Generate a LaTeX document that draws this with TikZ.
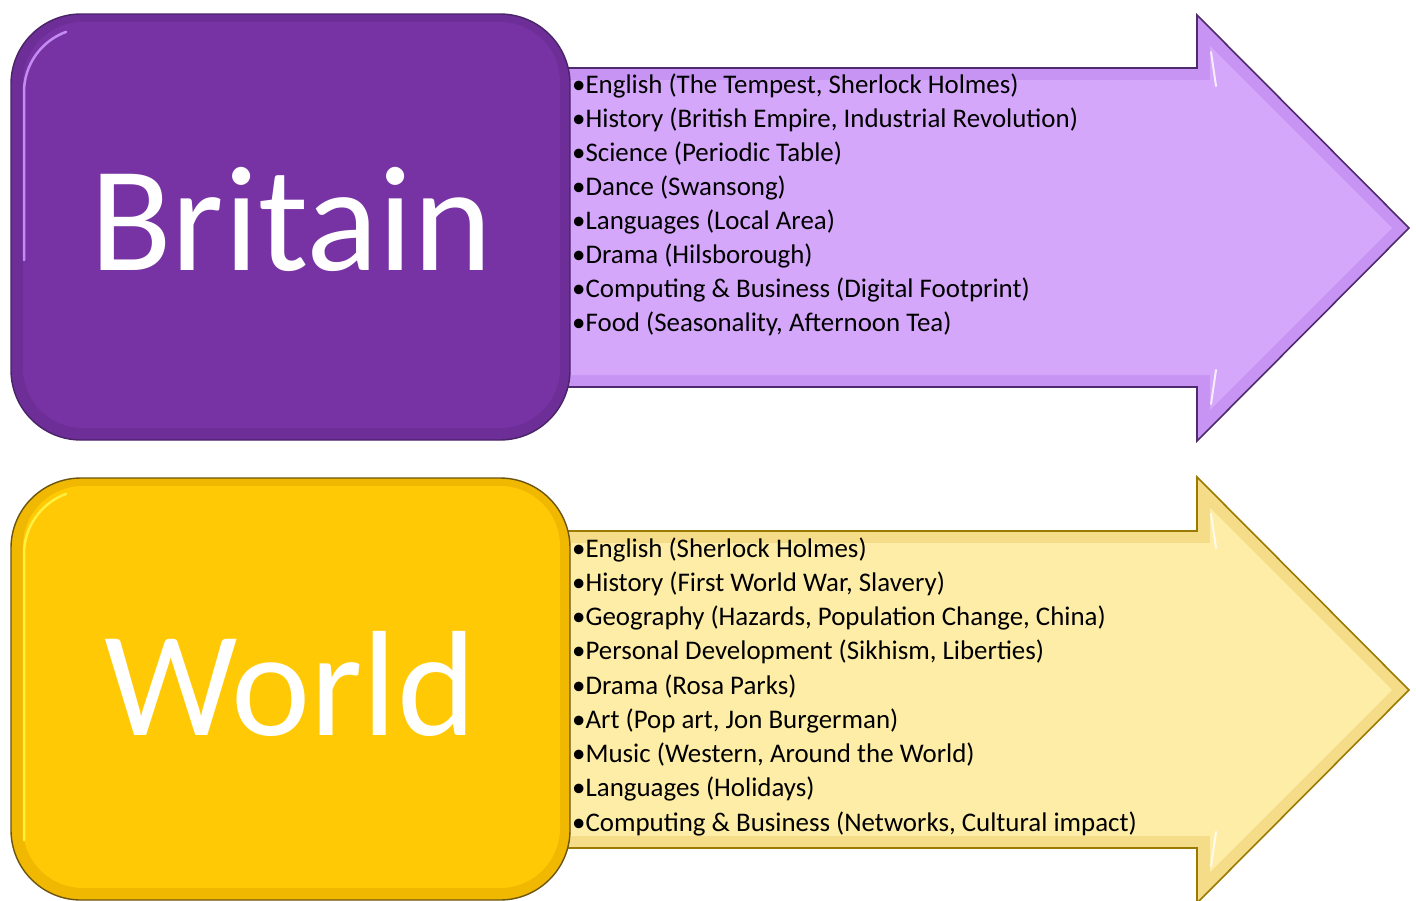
\documentclass[tikz,border=0pt]{standalone}
\usepackage{fontspec}
\setmainfont{Carlito}
\definecolor{pmain}{HTML}{7733A3}
\definecolor{pedge}{HTML}{4A2468}
\definecolor{pband}{HTML}{6E2E98}
\definecolor{plite}{HTML}{C48CF2}
\definecolor{parrow}{HTML}{D5A7FB}
\definecolor{parrowband}{HTML}{C794F3}
\definecolor{parrowedge}{HTML}{4E2A6E}
\definecolor{ymain}{HTML}{FFC906}
\definecolor{yedge}{HTML}{6B5510}
\definecolor{yband}{HTML}{F0B800}
\definecolor{ylite}{HTML}{FFF040}
\definecolor{yarrow}{HTML}{FEEDA6}
\definecolor{yarrowband}{HTML}{F4DC88}
\definecolor{yarrowedge}{HTML}{9A7A00}
\tikzset{
  listtext/.style={anchor=base west, inner sep=0pt, font=\fontsize{26.9}{32}\selectfont, text=black},
  bigtext/.style={anchor=base, inner sep=0pt, font=\fontsize{150}{160}\selectfont, text=white},
  shine/.style={white, line width=2pt, opacity=0.8, line cap=round},
}
\begin{document}
\begin{tikzpicture}[x=1pt,y=-1pt]
\useasboundingbox (0,0) rectangle (1416,900);
% ---------- Britain arrow ----------
\fill[parrowband] (540,68) -- (1197,68) -- (1197,15) -- (1409,228) -- (1197,441) -- (1197,387) -- (540,387) -- cycle;
\fill[parrow] (540,80) -- (1210,80) -- (1210,46) -- (1392,228) -- (1210,410) -- (1210,375) -- (540,375) -- cycle;
\draw[shine] (1211,52) -- (1216,86);
\draw[shine] (1211,404) -- (1216,370);
\draw[parrowedge, line width=1.6pt, line join=miter] (540,68) -- (1197,68) -- (1197,15) -- (1409,228) -- (1197,441) -- (1197,387) -- (540,387);
% ---------- Britain box ----------
\node[draw=pedge, fill=pband, line width=1.4pt, rounded corners=70pt, minimum width=559pt, minimum height=426pt, inner sep=0pt] (britainbox) at (290.5,227) {};
\node[fill=pmain, rounded corners=60pt, minimum width=537pt, minimum height=406pt, inner sep=0pt] (britaininner) at (291.5,225) {};
\draw[plite, line width=2.5pt, line cap=round] (24,260) -- (24,92) arc[start angle=180, end angle=250, radius=64];
\node[bigtext] (britain) at (291,270) {Britain};
\foreach \t [count=\i] in {{English (The Tempest, Sherlock Holmes)},{History (British Empire, Industrial Revolution)},{Science (Periodic Table)},{Dance (Swansong)},{Languages (Local Area)},{Drama (Hilsborough)},{Computing \& Business (Digital Footprint)},{Food (Seasonality, Afternoon Tea)}}
  \node[listtext] (bl\i) at (572,{93+34*(\i-1)}) {•\t};
% ---------- World arrow ----------
\fill[yarrowband] (540,531) -- (1197,531) -- (1197,477) -- (1409,690) -- (1197,903) -- (1197,848) -- (540,848) -- cycle;
\fill[yarrow] (540,543) -- (1210,543) -- (1210,508) -- (1392,690) -- (1210,872) -- (1210,836) -- (540,836) -- cycle;
\draw[shine] (1211,514) -- (1216,548);
\draw[shine] (1211,866) -- (1216,832);
\draw[yarrowedge, line width=1.6pt, line join=miter] (540,531) -- (1197,531) -- (1197,477) -- (1409,690) -- (1197,903) -- (1197,848) -- (540,848);
% ---------- World box ----------
\node[draw=yedge, fill=yband, line width=1.4pt, rounded corners=70pt, minimum width=559pt, minimum height=422pt, inner sep=0pt] (worldbox) at (290.5,689) {};
\node[fill=ymain, rounded corners=60pt, minimum width=537pt, minimum height=402pt, inner sep=0pt] (worldinner) at (291.5,687) {};
\draw[ylite, line width=2.5pt, line cap=round] (24,840) -- (24,554) arc[start angle=180, end angle=250, radius=64];
\node[bigtext] (world) at (290,735) {World};
\foreach \t [count=\i] in {{English (Sherlock Holmes)},{History (First World War, Slavery)},{Geography (Hazards, Population Change, China)},{Personal Development (Sikhism, Liberties)},{Drama (Rosa Parks)},{Art (Pop art, Jon Burgerman)},{Music (Western, Around the World)},{Languages (Holidays)},{Computing \& Business (Networks, Cultural impact)}}
  \node[listtext] (wl\i) at (572,{557+34.25*(\i-1)}) {•\t};
\end{tikzpicture}
\end{document}
